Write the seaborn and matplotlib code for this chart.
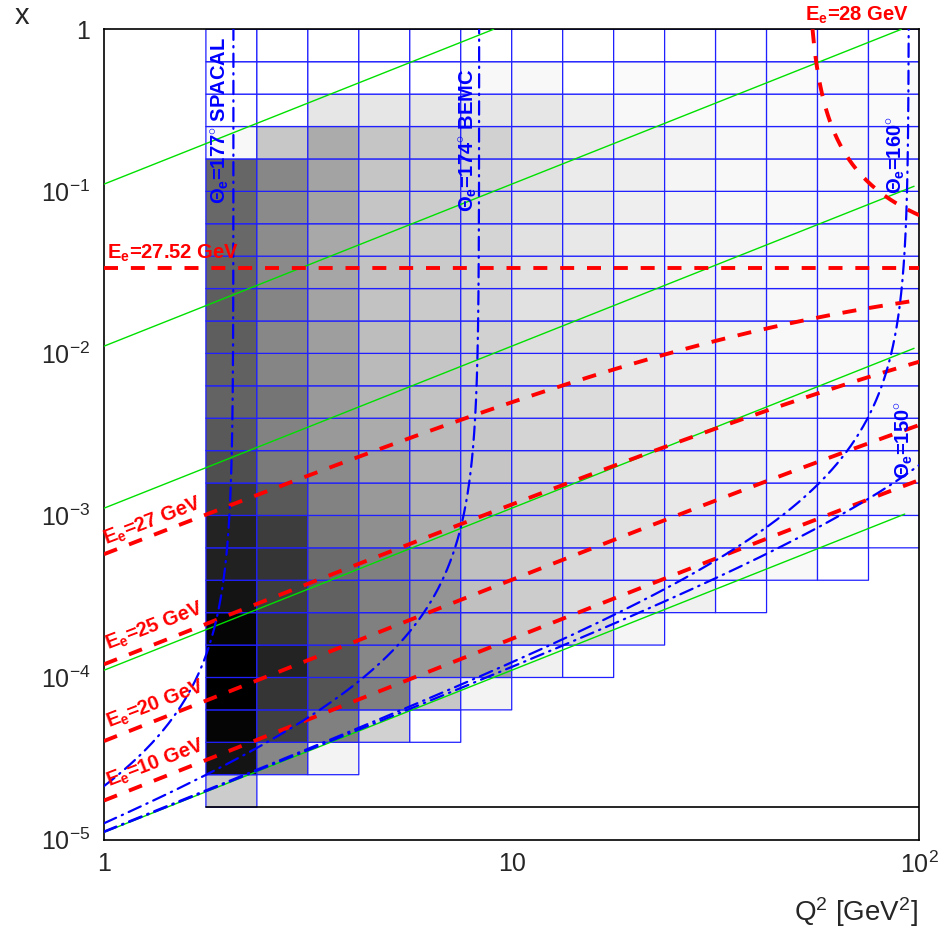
import numpy as np
import matplotlib
matplotlib.use("Agg")
import matplotlib.pyplot as plt
from matplotlib.ticker import FixedLocator, FixedFormatter, LogLocator, NullFormatter
import seaborn as sns

# HERA beam energies [GeV]
E_BEAM = 27.52
P_BEAM = 820.0

# binning of the (Q2, x) plane
q2_edges = np.logspace(0.25, 2.0, 15)
x_edges = np.logspace(-4.8, 0.0, 25)

# lowest occupied x-bin for every Q2 column (staircase at the bottom)
first_row = [0, 1, 1, 2, 2, 3, 4, 4, 5, 6, 6, 7, 7, 8]

# grey level of every cell, column by column, from first_row up to x=1 (0=black, 1=white)
gray_cols = [
    [0.80, 0.08, 0.02, 0.00, 0.00, 0.02, 0.08, 0.13, 0.14, 0.22, 0.31, 0.35, 0.39, 0.38,
     0.37, 0.37, 0.39, 0.41, 0.41, 0.40, 0.97, 1.00, 1.00, 1.00],
    [0.53, 0.25, 0.21, 0.14, 0.21, 0.24, 0.21, 0.24, 0.35, 0.48, 0.51, 0.46, 0.52, 0.53,
     0.52, 0.54, 0.55, 0.54, 0.53, 0.78, 1.00, 1.00, 1.00],
    [0.95, 0.50, 0.33, 0.33, 0.35, 0.38, 0.42, 0.47, 0.51, 0.54, 0.60, 0.60, 0.60, 0.62,
     0.64, 0.65, 0.66, 0.64, 0.64, 0.67, 0.90, 1.00, 1.00],
    [0.82, 0.50, 0.53, 0.50, 0.50, 0.50, 0.56, 0.60, 0.63, 0.67, 0.71, 0.73, 0.74, 0.76,
     0.76, 0.77, 0.77, 0.77, 0.77, 0.90, 1.00, 1.00],
    [1.00, 0.78, 0.60, 0.60, 0.58, 0.60, 0.67, 0.69, 0.71, 0.73, 0.76, 0.77, 0.78, 0.79,
     0.79, 0.80, 0.80, 0.80, 0.80, 0.90, 1.00, 1.00],
    [0.95, 0.64, 0.74, 0.75, 0.75, 0.72, 0.75, 0.77, 0.78, 0.80, 0.81, 0.82, 0.83, 0.83,
     0.83, 0.83, 0.83, 0.82, 0.90, 0.97, 1.00],
    [0.94, 0.79, 0.80, 0.80, 0.80, 0.80, 0.82, 0.83, 0.85, 0.86, 0.87, 0.88, 0.88, 0.88,
     0.88, 0.88, 0.88, 0.90, 0.97, 1.00],
    [1.00, 0.85, 0.86, 0.85, 0.84, 0.84, 0.85, 0.86, 0.86, 0.87, 0.88, 0.89, 0.91, 0.91,
     0.91, 0.92, 0.92, 0.94, 1.00, 1.00],
    [0.96, 0.91, 0.91, 0.88, 0.89, 0.89, 0.89, 0.90, 0.91, 0.91, 0.92, 0.94, 0.94, 0.93,
     0.93, 0.94, 0.97, 0.98, 1.00],
    [0.94, 0.94, 0.91, 0.91, 0.92, 0.92, 0.93, 0.93, 0.94, 0.94, 0.95, 0.95, 0.95, 0.96,
     0.95, 0.98, 0.98, 1.00],
    [1.00, 0.95, 0.93, 0.93, 0.94, 0.94, 0.95, 0.95, 0.95, 0.95, 0.96, 0.96, 0.97, 0.97,
     0.97, 0.98, 0.98, 1.00],
    [0.97, 0.96, 0.95, 0.96, 0.96, 0.96, 0.96, 0.97, 0.97, 0.97, 0.97, 0.97, 0.97, 0.97,
     0.98, 0.98, 1.00],
    [1.00, 0.97, 0.97, 0.97, 0.97, 0.97, 0.97, 0.97, 0.97, 0.97, 0.97, 0.97, 0.97, 0.97,
     0.98, 0.98, 1.00],
    [1.00, 0.97, 0.97, 0.97, 0.97, 0.97, 0.97, 0.97, 0.97, 0.97, 0.97, 0.97, 0.97, 0.98,
     0.98, 1.00],
]

# lines of constant inelasticity y (green) and where they stop in Q2
y_values = [1e-4, 1e-3, 1e-2, 1e-1, 1.0]
y_q2_stop = [97.0, 97.0, 97.0, 97.0, 92.0]

# lines of constant scattered electron energy (red)
e_prime = [10.0, 20.0, 25.0, 27.0, 27.52, 28.0]

# lines of constant scattered electron angle (blue)
theta_e = [177.0, 174.0, 160.0, 150.0]

sns.set_theme(style="white")
plt.rcParams["font.family"] = ["Liberation Sans", "DejaVu Sans"]
plt.rcParams["mathtext.fontset"] = "custom"
plt.rcParams["mathtext.rm"] = "Liberation Sans"
plt.rcParams["mathtext.it"] = "Liberation Sans:italic"
plt.rcParams["mathtext.bf"] = "Liberation Sans:bold"

fig = plt.figure(figsize=(9.53, 9.33), dpi=100)
ax = fig.add_axes([0.1091, 0.1002, 0.8557, 0.8684])
ax.set_xscale("log")
ax.set_yscale("log")

# cell shading
cells = np.full((len(x_edges) - 1, len(q2_edges) - 1), np.nan)
for j, col in enumerate(gray_cols):
    cells[first_row[j]:first_row[j] + len(col), j] = col
ax.pcolor(q2_edges, x_edges, np.ma.masked_invalid(cells), cmap="gray", vmin=0, vmax=1,
          edgecolors="#1f1fff", linewidth=0.9, zorder=1)
ax.plot([q2_edges[0], q2_edges[-1]], [x_edges[0], x_edges[0]], color="black", lw=1.2, zorder=2)

s = 4.0 * E_BEAM * P_BEAM

# constant y
for yv, qstop in zip(y_values, y_q2_stop):
    q = np.geomspace(1.0, min(qstop, s * yv), 200)
    sns.lineplot(x=q, y=q / (s * yv), ax=ax, color="#00e000", lw=1.0, sort=False,
                 estimator=None, legend=False, zorder=3)

# constant E'
for ep in e_prime:
    q0 = s * (E_BEAM - ep) / E_BEAM / (1.0 - s / (4 * E_BEAM ** 2))
    q = np.geomspace(max(1.0, q0), 100.0, 300)
    yy = (E_BEAM - ep + q / (4 * E_BEAM)) / E_BEAM
    sns.lineplot(x=q, y=q / (s * yy), ax=ax, color="#ff0000", lw=2.8, sort=False,
                 estimator=None, legend=False, linestyle=(0, (3.6, 3.3)), zorder=4)

# constant electron angle
for th in theta_e:
    k = np.tan(np.radians(th) / 2) ** 2 / (4 * E_BEAM ** 2)
    y_end = max(1.0 / (1.0 + k * s), 1.0 - 100.0 * k)
    yy = np.geomspace(1.0 - k, y_end, 500)
    q = (1.0 - yy) / k
    sns.lineplot(x=q, y=q / (s * yy), ax=ax, color="#0000ff", lw=1.6, sort=False,
                 estimator=None, legend=False, linestyle=(0, (6.0, 2.8, 0.6, 2.8)),
                 dash_capstyle="round", zorder=5)

ax.set_xlim(1, 100)
ax.set_ylim(1e-5, 1)

# ROOT like axes
ax.xaxis.set_major_locator(FixedLocator([1, 10, 100]))
ax.xaxis.set_major_formatter(FixedFormatter(["1", "10", "$10^{2}$"]))
ax.yaxis.set_major_locator(FixedLocator([1e-5, 1e-4, 1e-3, 1e-2, 1e-1, 1]))
ax.yaxis.set_major_formatter(FixedFormatter(["$10^{-5}$", "$10^{-4}$", "$10^{-3}$",
                                             "$10^{-2}$", "$10^{-1}$", "1"]))
for axis in (ax.xaxis, ax.yaxis):
    axis.set_minor_locator(LogLocator(base=10, subs=np.arange(2, 10)))
    axis.set_minor_formatter(NullFormatter())
ax.tick_params(which="both", direction="in", top=False, right=False, color="black", width=1.0)
ax.tick_params(which="major", length=7, labelsize=18)
ax.tick_params(which="minor", length=4)
ax.tick_params(axis="x", pad=9)
ax.tick_params(axis="y", pad=10)
for sp in ax.spines.values():
    sp.set_color("black")
    sp.set_linewidth(1.2)

fig.text(22 / 953, 1 - 16 / 933, "x", fontsize=21, ha="center", va="center")
fig.text(918 / 953, 1 - 912 / 933, "Q$^{2}$ [GeV$^{2}$]", fontsize=20, ha="right", va="center")

# curve labels
blue = "#0000ff"
red = "#ff0000"
lab = dict(fontsize=14.5, fontweight="bold", transform=ax.transAxes, zorder=6)
theta_txt = r"$\mathbf{\Theta_{e}}$=%d$^{\circ}$"
ax.text(0.1435, 0.888, theta_txt % 177 + " SPACAL", color=blue, rotation=90,
        ha="center", va="center", **lab)
ax.text(0.4476, 0.8636, theta_txt % 174 + " BEMC", color=blue, rotation=90,
        ha="center", va="center", **lab)
ax.text(0.9724, 0.845, theta_txt % 160, color=blue, rotation=90,
        ha="center", va="center", **lab)
ax.text(0.982, 0.493, theta_txt % 150, color=blue, rotation=90,
        ha="center", va="center", **lab)

ax.text(0.0037, 0.7238, r"E$_{\mathbf{e}}$=27.52 GeV", color=red, ha="left", va="center", **lab)
ax.text(0.8596, 1.0177, r"E$_{\mathbf{e}}$=28 GeV", color=red, ha="left", va="center",
        clip_on=False, **lab)
for txt, fx, fy in [("27", 0.060, 0.392), ("25", 0.0625, 0.2635),
                    ("20", 0.0638, 0.167), ("10", 0.0638, 0.0944)]:
    ax.text(fx, fy, r"E$_{\mathbf{e}}$=" + txt + " GeV", color=red, rotation=21,
            rotation_mode="anchor", ha="center", va="center", **lab)

fig.savefig("out.png", dpi=100)
